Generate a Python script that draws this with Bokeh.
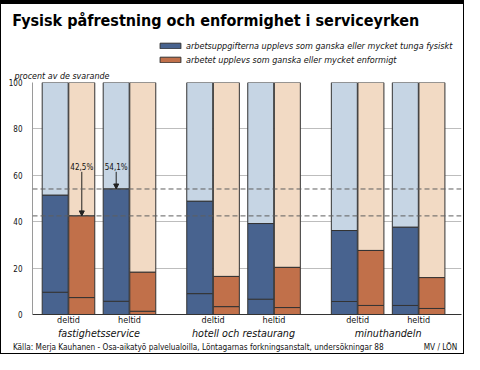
from bokeh.plotting import figure
from bokeh.layouts import column
from bokeh.models import (ColumnDataSource, FixedTicker, LinearAxis, Range1d, Label, Title,
                          Span, Arrow, NormalHead, Legend, LegendItem)
from bokeh.embed import file_html
from bokeh.resources import INLINE

# ---------------- data ----------------
titel = "Fysisk påfrestning och enformighet i serviceyrken"
y_titel = "procent av de svarande"
branscher = ["fastighetsservice", "hotell och restaurang", "minuthandeln"]
arbetstid = ["deltid", "heltid"]
serie_namn = ["arbetsuppgifterna upplevs som ganska eller mycket tunga fysiskt",
              "arbetet upplevs som ganska eller mycket enformigt"]
# order: fastighetsservice deltid/heltid, hotell deltid/heltid, minuthandeln deltid/heltid
fysisk_totalt = [51.4, 54.1, 48.8, 39.2, 36.2, 37.6]
fysisk_mycket = [9.6, 5.7, 9.0, 6.6, 5.6, 3.9]
enformig_totalt = [42.5, 18.2, 16.4, 20.3, 27.6, 15.9]
enformig_mycket = [7.3, 1.4, 3.4, 3.0, 3.9, 2.6]
y_ticks = [0, 20, 40, 60, 80, 100]
kalla = "Källa:  Merja Kauhanen - Osa-aikatyö palvelualoilla, Löntagarnas forkningsanstalt, undersökningar 88"
signatur = "MV / LÖN"

# ---------------- style / layout ----------------
FONT = "DejaVu Sans Condensed"
TXT = "#111111"
BLUE_D, BLUE_L = "#48638f", "#c6d5e4"
ORANGE_D, ORANGE_L = "#c1704a", "#f2dac4"
EDGE = "#333333"
W = 464
H_HEAD, H_MAIN = 66, 288
FRAME_L, FRAME_R = 32, 461          # plot-area edges in pixels
FOOT_POS = [199, 440]               # pixel centres of the source line texts

GAP = 0.37
DODGE = 0.218
BAR_W = 0.426
centers = [g * (2 + GAP) + s for g in range(len(branscher)) for s in range(len(arbetstid))]
group_centers = [g * (2 + GAP) + 0.5 for g in range(len(branscher))]
sub_labels = [arbetstid[i % 2] for i in range(len(centers))]
x_fys = [c - DODGE for c in centers]
x_enf = [c + DODGE for c in centers]


def bare(fig):
    fig.title.visible = False
    fig.outline_line_color = None
    fig.background_fill_color = None
    fig.border_fill_color = None
    fig.xgrid.visible = False
    fig.ygrid.visible = False


def no_ticks(ax):
    ax.major_tick_out = 0
    ax.major_tick_in = 0
    ax.minor_tick_out = 0
    ax.minor_tick_in = 0
    ax.major_tick_line_color = None
    ax.minor_tick_line_color = None


# ---------------- header: title and legend ----------------
h = figure(width=W, height=H_HEAD, x_range=Range1d(0, 1), y_range=Range1d(0, 1),
           output_backend="svg", toolbar_location=None, x_axis_type=None, y_axis_type=None,
           min_border=0, min_border_left=FRAME_L, min_border_right=W - FRAME_R,
           min_border_top=0, min_border_bottom=0)
bare(h)
h.add_layout(Title(text=titel, align="left", offset=11.7 - FRAME_L, standoff=17,
                   text_font=FONT, text_font_size="16px", text_font_style="bold",
                   text_color="black"), "above")
# legend keys (single off-range point each, only used for the legend swatches)
k_fys = h.vbar(x=[-5], top=[0], width=0.1, fill_color=BLUE_D, line_color=EDGE)
k_enf = h.vbar(x=[-5], top=[0], width=0.1, fill_color=ORANGE_D, line_color=EDGE)
legend = Legend(items=[LegendItem(label=serie_namn[0], renderers=[k_fys]),
                       LegendItem(label=serie_namn[1], renderers=[k_enf])],
                location=(157 - FRAME_L, 0.5), orientation="vertical",
                glyph_width=26, glyph_height=7, label_standoff=3, spacing=2,
                padding=0, margin=0, label_height=12,
                border_line_color=None, background_fill_alpha=0,
                label_text_font=FONT, label_text_font_style="italic",
                label_text_font_size="9px", label_text_color=TXT)
h.add_layout(legend)

# ---------------- main chart ----------------
p = figure(width=W, height=H_MAIN, x_range=Range1d(-0.59, 6.443), y_range=Range1d(0, 100),
           output_backend="svg", toolbar_location=None,
           min_border_left=FRAME_L, min_border_right=W - FRAME_R,
           min_border_top=16, min_border_bottom=40)
bare(p)
p.ygrid.visible = True
p.ygrid.ticker = FixedTicker(ticks=y_ticks)
p.ygrid.grid_line_color = "#bdbdbd"

p.add_layout(Title(text=y_titel, align="left", offset=14 - FRAME_L, standoff=3,
                   text_font=FONT, text_font_size="8.9px", text_font_style="italic",
                   text_color=TXT), "above")

ya = p.yaxis[0]
ya.ticker = FixedTicker(ticks=y_ticks)
ya.major_label_text_font = FONT
ya.major_label_text_font_size = "8px"
ya.major_label_text_color = TXT
ya.major_label_standoff = 10
no_ticks(ya)
ya.axis_line_color = "#9a9a9a"

xa = p.xaxis[0]
xa.ticker = FixedTicker(ticks=centers)
xa.major_label_overrides = {c: l for c, l in zip(centers, sub_labels)}
xa.major_label_text_font = FONT
xa.major_label_text_font_size = "9px"
xa.major_label_text_color = TXT
xa.major_label_standoff = 0
no_ticks(xa)
xa.axis_line_color = "#333333"

xa2 = LinearAxis(ticker=FixedTicker(ticks=group_centers),
                 major_label_overrides={c: b for c, b in zip(group_centers, branscher)})
xa2.major_label_text_font = FONT
xa2.major_label_text_font_size = "10.7px"
xa2.major_label_text_font_style = "italic"
xa2.major_label_text_color = TXT
xa2.major_label_standoff = -1
no_ticks(xa2)
xa2.axis_line_color = None
p.add_layout(xa2, "below")

# source line below the category labels (pixel-unit extra range)
p.extra_x_ranges = {"px": Range1d(FRAME_L, FRAME_R)}
xa3 = LinearAxis(x_range_name="px", ticker=FixedTicker(ticks=FOOT_POS),
                 major_label_overrides={FOOT_POS[0]: kalla, FOOT_POS[1]: signatur})
xa3.major_label_text_font = FONT
xa3.major_label_text_font_size = "8.2px"
xa3.major_label_text_color = TXT
xa3.major_label_standoff = -1
no_ticks(xa3)
xa3.axis_line_color = None
p.add_layout(xa3, "below")

src = ColumnDataSource(dict(x_fys=x_fys, x_enf=x_enf,
                            fys_m=fysisk_mycket, fys_t=fysisk_totalt,
                            enf_m=enformig_mycket, enf_t=enformig_totalt,
                            top=[100] * len(centers), zero=[0] * len(centers)))


def stack(xcol, mcol, tcol, dark, light):
    p.vbar(x=xcol, width=BAR_W, bottom=tcol, top="top", source=src,
           fill_color=light, line_color=EDGE, line_width=1)
    p.vbar(x=xcol, width=BAR_W, bottom="zero", top=mcol, source=src,
           fill_color=dark, line_color=EDGE, line_width=1)
    p.vbar(x=xcol, width=BAR_W, bottom=mcol, top=tcol, source=src,
           fill_color=dark, line_color=EDGE, line_width=1)


stack("x_fys", "fys_m", "fys_t", BLUE_D, BLUE_L)
stack("x_enf", "enf_m", "enf_t", ORANGE_D, ORANGE_L)

hl = [(x_enf[0], enformig_totalt[0]), (x_fys[1], fysisk_totalt[1])]
for xv, yv in hl:
    p.add_layout(Span(location=yv, dimension="width", line_color="#5f5f5f",
                      line_dash="5 3", line_width=1))
    p.add_layout(Arrow(x_start=xv, y_start=61.5, x_end=xv, y_end=yv,
                       line_color="#222222", line_width=1,
                       end=NormalHead(size=5, fill_color="#222222", line_color="#222222")))
    p.add_layout(Label(x=xv, y=63.5, text=f"{yv:.1f}%".replace(".", ","),
                       text_align="center", text_baseline="alphabetic",
                       text_font=FONT, text_font_size="8px", text_color=TXT))

layout = column(h, p, spacing=0,
                styles={"box-shadow": "inset 0 4px 0 0 #000, inset 0 0 0 1px #000",
                        "background": "white"})

open("out.html", "w").write(file_html(layout, INLINE))
